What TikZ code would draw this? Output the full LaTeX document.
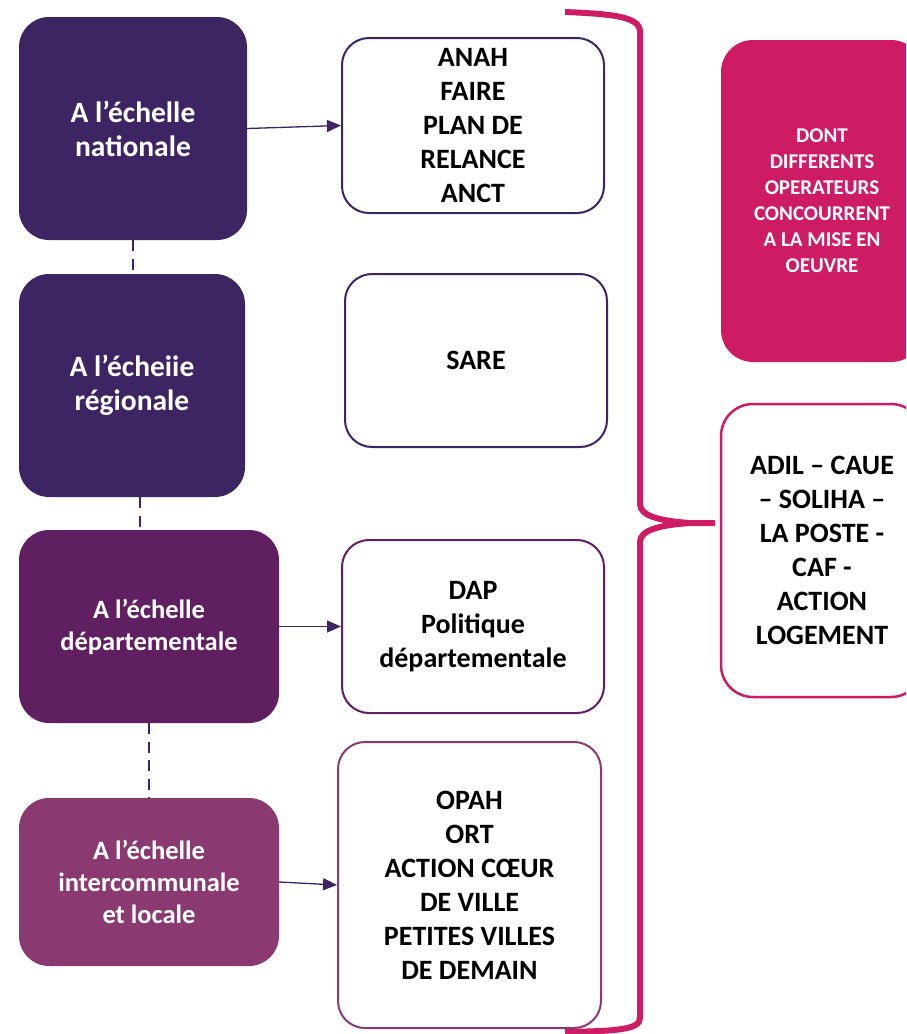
\documentclass[tikz,border=0pt]{standalone}
\usepackage{fontspec}
\setmainfont{Carlito}
\usetikzlibrary{arrows.meta,calc}

\definecolor{deepviolet}{HTML}{3D2462}
\definecolor{plumviolet}{HTML}{5F1F61}
\definecolor{mauveviolet}{HTML}{8A3A70}
\definecolor{brandpink}{HTML}{CE1C64}

\tikzset{
  levelbox/.style={rectangle, rounded corners=30pt, fill=#1, draw=none, text=white,
    align=center, inner sep=0pt},
  schemebox/.style={rectangle, rounded corners=27pt, fill=white, draw=#1, line width=2pt,
    text=black, align=center, inner sep=0pt},
  toptext/.style={font=\fontsize{29.5}{34}\selectfont\bfseries},
  bigtext/.style={font=\fontsize{28}{34}\selectfont\bfseries},
  midtext/.style={font=\fontsize{26.5}{32}\selectfont\bfseries},
  smalltext/.style={font=\fontsize{21}{26}\selectfont\bfseries},
  linkarrow/.style={draw=deepviolet, line width=1.3pt, -{Triangle[length=14pt,width=12pt]}},
  levellink/.style={draw=deepviolet, line width=2.6pt, dash pattern=on 11pt off 7.5pt},
  bracestroke/.style={draw=brandpink, line width=6pt},
}

\begin{document}
\begin{tikzpicture}[x=1pt, y=-1pt]
\useasboundingbox (0,0) rectangle (906,1034);
\clip (0,0) rectangle (906,1034);

% territorial levels
\node[levelbox=deepviolet, toptext, minimum width=228pt, minimum height=223pt] (national) at (133,128.5) {A l’échelle\\nationale};
\node[levelbox=deepviolet, toptext, minimum width=226pt, minimum height=223pt] (regional) at (132,385.5) {A l’écheiie\\régionale};
\node[levelbox=plumviolet, midtext, minimum width=260pt, minimum height=193pt] (departemental) at (149,626.5) {A l’échelle\\départementale};
\node[levelbox=mauveviolet, midtext, minimum width=260pt, minimum height=168pt] (local) at (149,882) {A l’échelle\\intercommunale\\et locale};

% schemes at each level
\node[schemebox=deepviolet, bigtext, minimum width=262pt, minimum height=175pt] (natschemes) at (473,125.5) {ANAH\\FAIRE\\PLAN DE\\RELANCE\\ANCT};
\node[schemebox=deepviolet, bigtext, minimum width=262pt, minimum height=173pt] (regschemes) at (476,360.5) {SARE};
\node[schemebox=plumviolet, bigtext, minimum width=262pt, minimum height=173pt] (depschemes) at (473,626.5) {DAP\\Politique\\départementale};
\node[schemebox=mauveviolet, bigtext, minimum width=263pt, minimum height=286pt] (locschemes) at (469.5,885) {OPAH\\ORT\\ACTION CŒUR\\DE VILLE\\PETITES VILLES\\DE DEMAIN};

% operators
\node[rectangle, rounded corners=32pt, fill=brandpink, text=white, align=center, inner sep=0pt,
  smalltext, minimum width=202pt, minimum height=322pt] (operhead) at (822,201)
  {DONT\\DIFFERENTS\\OPERATEURS\\CONCOURRENT\\A LA MISE EN\\OEUVRE};
\node[rectangle, rounded corners=32pt, fill=white, draw=brandpink, line width=2.5pt, align=center,
  inner sep=0pt, bigtext, minimum width=202pt, minimum height=293pt] (operators) at (822,550.5)
  {ADIL – CAUE\\– SOLIHA –\\LA POSTE -\\CAF -\\ACTION\\LOGEMENT};

% links between levels
\draw[levellink] (national.south) -- (regional.north -| national.south);
\draw[levellink] ([xshift=8pt]regional.south) -- ([xshift=-9pt]departemental.north);
\draw[levellink] (departemental.south) -- (local.north);

% arrows towards the schemes
\draw[linkarrow] (national.east) -- (natschemes.west);
\draw[linkarrow] (departemental.east) -- (depschemes.west);
\draw[linkarrow] (local.east) -- (locschemes.west);

% brace gathering all schemes
\coordinate (bracetip) at (715,523);
\draw[bracestroke] (565,12) .. controls (615,14) and (640,17) .. (640,32)
  -- (640,504) .. controls (640,516) and (660,521) .. (690,523) -- (bracetip);
\draw[bracestroke] (690,523) .. controls (660,525) and (640,530) .. (640,542)
  -- (640,1018) .. controls (640,1030) and (615,1031) .. (565,1032);
\end{tikzpicture}
\end{document}
